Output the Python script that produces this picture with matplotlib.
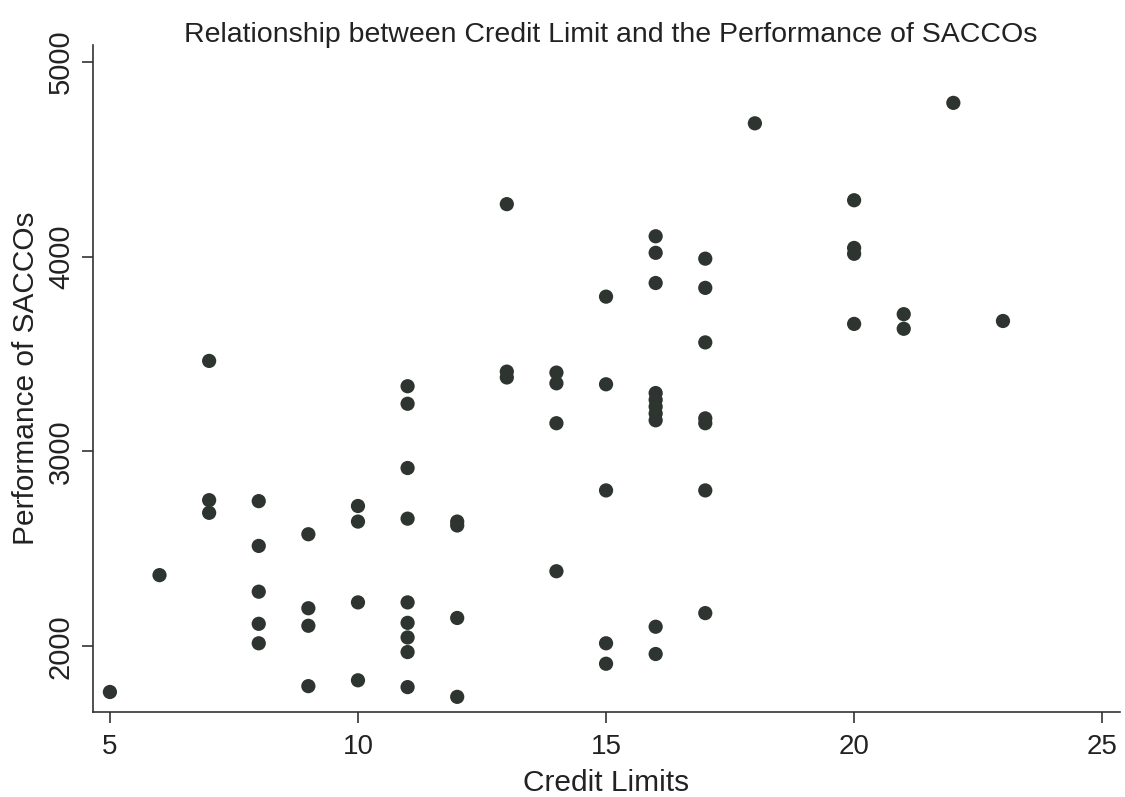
import matplotlib
matplotlib.use("Agg")
import matplotlib.pyplot as plt

# Credit limit (x) and performance (y)
credit_limit = [5,
                6,
                7, 7, 7,
                8, 8, 8, 8, 8,
                9, 9, 9, 9,
                10, 10, 10, 10,
                11, 11, 11, 11, 11, 11, 11, 11, 11,
                12, 12, 12, 12,
                13, 13, 13,
                14, 14, 14, 14,
                15, 15, 15, 15, 15,
                16, 16, 16, 16, 16, 16, 16, 16, 16, 16,
                17, 17, 17, 17, 17, 17, 17,
                18,
                20, 20, 20, 20,
                21, 21,
                22,
                23]
performance = [1765,
               2365,
               3465, 2750, 2685,
               2745, 2515, 2280, 2115, 2015,
               2575, 2195, 2105, 1795,
               2720, 2640, 2225, 1825,
               3335, 3245, 2915, 2655, 2225, 2120, 2045, 1970, 1790,
               2640, 2620, 2145, 1740,
               4270, 3410, 3380,
               3405, 3350, 3145, 2385,
               3795, 3345, 2800, 2015, 1910,
               4105, 4020, 3865, 3300, 3265, 3230, 3195, 3160, 2100, 1960,
               3990, 3840, 3560, 3170, 3145, 2800, 2170,
               4685,
               4290, 4045, 4015, 3655,
               3705, 3630,
               4790,
               3670]

x_ticks = [5, 10, 15, 20, 25]
y_ticks = [2000, 3000, 4000, 5000]

title = "Relationship between Credit Limit and the Performance of SACCOs"
x_label = "Credit Limits"
y_label = "Performance of SACCOs"

plt.rcParams['font.family'] = ['Liberation Sans', 'DejaVu Sans']

fig = plt.figure(figsize=(11.25, 7.97), dpi=100)
ax = fig.add_axes([0.0827, 0.1066, 0.9129, 0.8369])

ax.scatter(credit_limit, performance, s=105, color='#2e3530', edgecolors='none', zorder=3)

ax.set_xlim(4.66, 25.36)
ax.set_ylim(1662, 5087)
ax.set_xticks(x_ticks)
ax.set_yticks(y_ticks)
ax.set_xticklabels([str(v) for v in x_ticks], fontsize=20, color='#222222')
ax.set_yticklabels([str(v) for v in y_ticks], fontsize=21, color='#222222',
                   rotation=90, va='center')

for side in ['top', 'right']:
    ax.spines[side].set_visible(False)
for side in ['left', 'bottom']:
    ax.spines[side].set_color('#333333')
    ax.spines[side].set_linewidth(1.2)
ax.tick_params(direction='out', length=8, width=1.2, color='#333333')
ax.tick_params(axis='x', pad=8)
ax.tick_params(axis='y', pad=5)

ax.set_xlabel(x_label, fontsize=21.5, color='#222222', labelpad=6)
ax.set_ylabel(y_label, fontsize=21.5, color='#222222', labelpad=5)
fig.text(0.543, 0.956, title, ha='center', va='center', fontsize=20.5, color='#222222')

fig.savefig("out.png", dpi=100, facecolor='white')
